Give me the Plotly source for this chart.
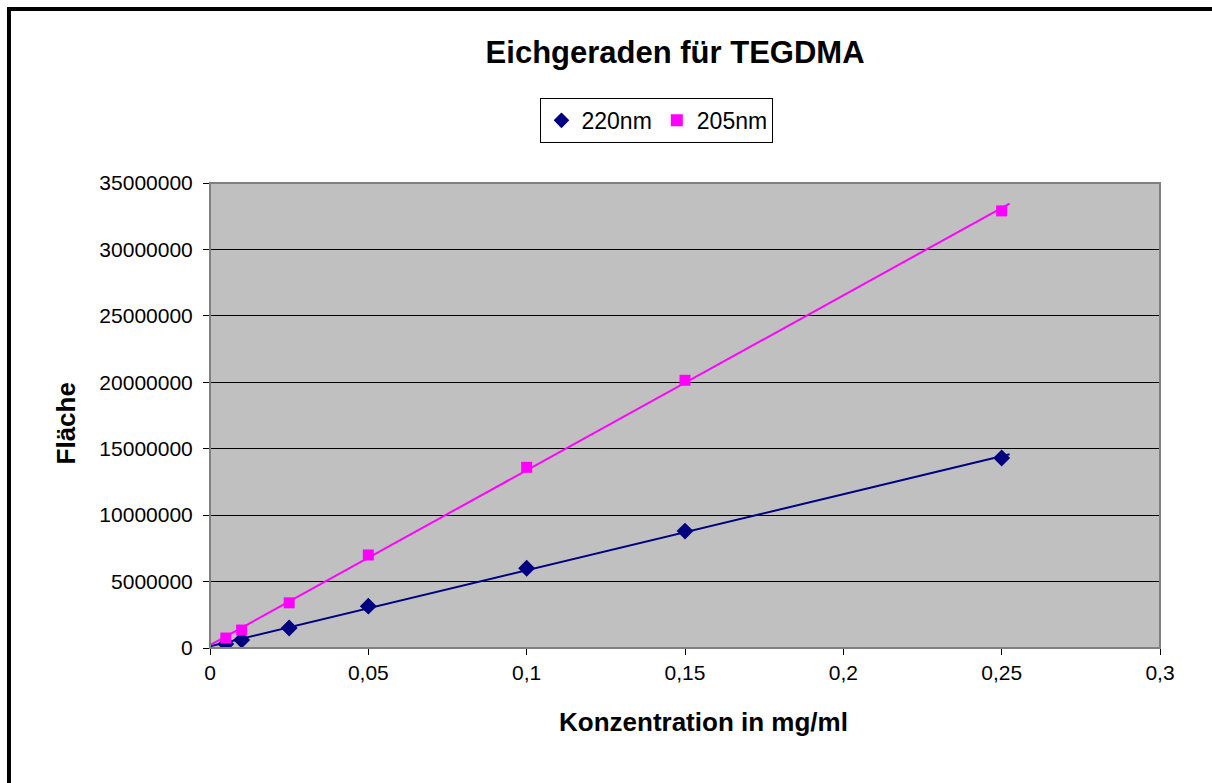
import numpy as np
import plotly.graph_objects as go

# Konzentration in mg/ml
konz = [0.005, 0.01, 0.025, 0.05, 0.1, 0.15, 0.25]
flaeche_220 = [300000, 600000, 1500000, 3150000, 6000000, 8800000, 14300000]
flaeche_205 = [750000, 1350000, 3400000, 7000000, 13600000, 20150000, 32900000]

trend_x = [0, 0.2525]

x_ticks = [0, 0.05, 0.1, 0.15, 0.2, 0.25, 0.3]
x_labels = ["0", "0,05", "0,1", "0,15", "0,2", "0,25", "0,3"]
y_ticks = list(range(0, 35000001, 5000000))

FONT = "Liberation Sans, Arial, sans-serif"

fig = go.Figure()

for ys, col, sym, size, name in [
    (flaeche_220, "#000080", "diamond", 13, "220nm"),
    (flaeche_205, "#FF00FF", "square", 11, "205nm"),
]:
    m, b = np.polyfit(konz, ys, 1)
    fig.add_trace(go.Scatter(
        x=trend_x, y=[m * x + b for x in trend_x], mode="lines",
        line=dict(color=col, width=2), showlegend=False, hoverinfo="skip"))
    fig.add_trace(go.Scatter(
        x=konz, y=ys, mode="markers", name=name,
        marker=dict(color=col, symbol=sym, size=size)))

# outer frame: only the left and top edges are in view
frame = dict(color="black", width=4)
fig.add_shape(type="line", xref="paper", yref="paper",
              x0=-0.2116, x1=-0.2116, y0=-0.8, y1=1.378, line=frame)
fig.add_shape(type="line", xref="paper", yref="paper",
              x0=-0.2137, x1=1.1, y0=1.374, y1=1.374, line=frame)

fig.update_layout(
    width=1212, height=783,
    margin=dict(l=210, r=52, t=183, b=135),
    paper_bgcolor="white",
    plot_bgcolor="#C0C0C0",
    font=dict(family=FONT, size=21, color="black"),
    separators=",.",
    title=dict(text="<b>Eichgeraden für TEGDMA</b>", x=0.557, y=0.934,
               xanchor="center", yanchor="middle", font=dict(size=31)),
    legend=dict(orientation="h", x=0.4705, y=1.183, xanchor="center", yanchor="top",
                bordercolor="black", borderwidth=1, bgcolor="white",
                font=dict(size=23), itemsizing="constant", itemwidth=30),
    xaxis=dict(range=[0, 0.3], tickvals=x_ticks, ticktext=x_labels,
               showgrid=False, zeroline=False, showline=True, linecolor="black",
               linewidth=1, ticks="outside", ticklen=6, tickcolor="black"),
    yaxis=dict(range=[0, 35000000], tickvals=y_ticks, tickformat="d",
               showgrid=True, gridcolor="black", gridwidth=1, zeroline=False,
               showline=True, linecolor="black", linewidth=1, ticks="outside",
               ticklen=6, tickcolor="black", ticklabelstandoff=6),
    annotations=[
        dict(text="<b>Konzentration in mg/ml</b>", xref="paper", yref="paper",
             x=0.519, y=-0.159, xanchor="center", yanchor="middle",
             showarrow=False, font=dict(size=26)),
        dict(text="<b>Fläche</b>", xref="paper", yref="paper", textangle=-90,
             x=-0.152, y=0.482, xanchor="center", yanchor="middle",
             showarrow=False, font=dict(size=26)),
    ],
)

# plot area border in grey
fig.add_shape(type="rect", xref="paper", yref="paper", x0=0, x1=1, y0=0, y1=1,
              line=dict(color="#808080", width=2))

fig.write_html("out.html", config={"displayModeBar": False},
               post_script="document.body.style.margin='0';document.body.style.overflow='hidden';")
